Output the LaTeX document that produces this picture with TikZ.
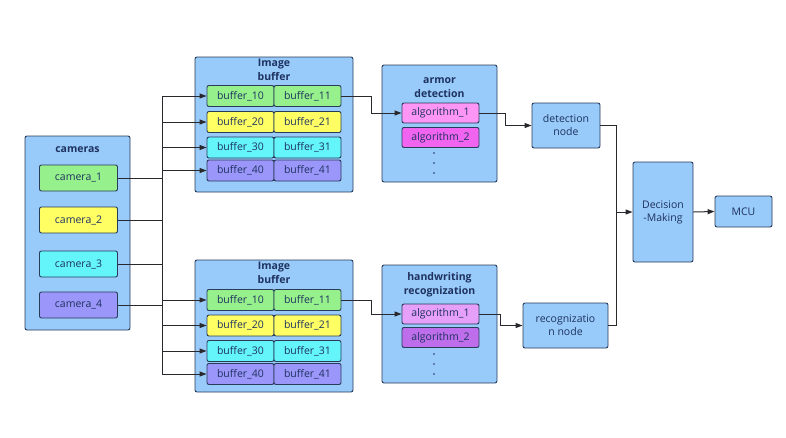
\documentclass[tikz,border=0pt]{standalone}
\usepackage{fontspec}
\setmainfont{Open Sans}
\usetikzlibrary{arrows.meta}

\definecolor{boxblue}{RGB}{152,202,250}
\definecolor{linecol}{RGB}{40,60,90}
\definecolor{textcol}{RGB}{30,50,95}
\definecolor{wirecol}{RGB}{40,40,45}
\definecolor{cgreen}{RGB}{150,240,140}
\definecolor{cyellow}{RGB}{255,255,100}
\definecolor{ccyan}{RGB}{100,245,250}
\definecolor{cviolet}{RGB}{155,150,250}
\definecolor{apink}{RGB}{255,150,245}
\definecolor{amagenta}{RGB}{240,100,240}
\definecolor{hlilac}{RGB}{230,160,250}
\definecolor{hpurple}{RGB}{190,110,235}

\begin{document}
\begin{tikzpicture}[x=1pt,y=-1pt,>={Triangle[length=7pt,width=5pt]},
  frame/.style={draw=linecol,fill=boxblue,rounded corners=2pt,line width=0.9pt,inner sep=0pt},
  cell/.style={draw=linecol,rounded corners=2pt,line width=0.9pt,inner sep=0pt,
    minimum width=67pt,minimum height=21pt,text=textcol,font=\fontsize{10.5}{13}\selectfont},
  title/.style={text=textcol,align=center,font=\fontsize{10.5}{14}\selectfont\bfseries},
  wire/.style={draw=wirecol,line width=1pt}]
\useasboundingbox (0,0) rectangle (786,437);

%containers
\node[frame,minimum width=105pt,minimum height=194pt] (camframe) at (77.5,233) {};
\node[frame,minimum width=158pt,minimum height=135pt] (topbuf) at (274,124.5) {};
\node[frame,minimum width=158pt,minimum height=132pt] (botbuf) at (274,326) {};
\node[frame,minimum width=115pt,minimum height=117pt] (armor) at (439.5,123.5) {};
\node[frame,minimum width=115pt,minimum height=118pt] (hand) at (439.5,324) {};

\node[title] (camtitle) at (77.5,150) {cameras};
\node[title] (toptitle) at (274,70) {Image\\buffer};
\node[title] (bottitle) at (274,273) {Image\\buffer};
\node[title] (armtitle) at (439.5,88) {armor\\detection};
\node[title] (handtitle) at (439.5,285) {handwriting\\recognization};

%cameras
\foreach \n/\y/\c in {1/178/cgreen,2/220/cyellow,3/264/ccyan,4/305/cviolet}
  \node[cell,fill=\c,minimum width=78pt,minimum height=26pt] (cam\n) at (78.5,\y) {camera\_\n};

%buffers
\foreach \n/\ya/\yb/\c in {1/96/300/cgreen,2/122/325.5/cyellow,3/147.5/351/ccyan,4/170.5/374/cviolet}{
  \node[cell,fill=\c] (ta\n) at (240.5,\ya) {buffer\_\n0};
  \node[cell,fill=\c] (tb\n) at (307.5,\ya) {buffer\_\n1};
  \node[cell,fill=\c] (ba\n) at (240.5,\yb) {buffer\_\n0};
  \node[cell,fill=\c] (bb\n) at (307.5,\yb) {buffer\_\n1};
}

%algorithms
\node[cell,fill=apink,minimum width=77pt,minimum height=20pt] (arm1) at (440.5,113) {algorithm\_1};
\node[cell,fill=amagenta,minimum width=77pt,minimum height=20pt] (arm2) at (440.5,137.5) {algorithm\_2};
\node[cell,fill=hlilac,minimum width=77pt,minimum height=20pt] (hw1) at (440.5,314) {algorithm\_1};
\node[cell,fill=hpurple,minimum width=77pt,minimum height=20pt] (hw2) at (440.5,337.5) {algorithm\_2};
\foreach \y in {153,163,173,354,364,374}
  \fill[textcol] (434,\y) circle (0.8pt);

%decision side
\node[cell,fill=boxblue,minimum width=68pt,minimum height=45pt,align=center] (det) at (566,125.5) {detection\\node};
\node[cell,fill=boxblue,minimum width=85pt,minimum height=45pt,align=center] (rec) at (565.5,325.5) {recognizatio\\n node};
\node[cell,fill=boxblue,minimum width=60pt,minimum height=100pt,align=center] (dec) at (663,212) {Decision\\-Making};
\node[cell,fill=boxblue,minimum width=57pt,minimum height=31pt] (mcu) at (743.5,211.5) {MCU};

%wiring
\coordinate (bus) at (162,0);
\coordinate (join) at (616,212);
\foreach \n in {1,...,4}{
  \draw[wire] (cam\n.east) -- (cam\n.east -| bus);
  \draw[wire,->] (ta\n.west -| bus) -- (ta\n.west);
  \draw[wire,->] (ba\n.west -| bus) -- (ba\n.west);
}
\draw[wire] (ta1.west -| bus) -- (ba4.west -| bus);
\draw[wire,->] (tb1.east) -- ++(30,0) |- (arm1.west);
\draw[wire,->] (bb1.east) -- ++(30,0) |- (hw1.west);
\draw[wire,->] (arm1.east) -- ++(26,0) |- (det.west);
\draw[wire,->] (hw1.east) -- ++(21,0) |- (rec.west);
\draw[wire] (det.east) -| (join);
\draw[wire] (rec.east) -| (join);
\draw[wire,->] (join) -- (dec.west);
\draw[wire,->] (dec.east) -- (mcu.west);
\end{tikzpicture}
\end{document}
